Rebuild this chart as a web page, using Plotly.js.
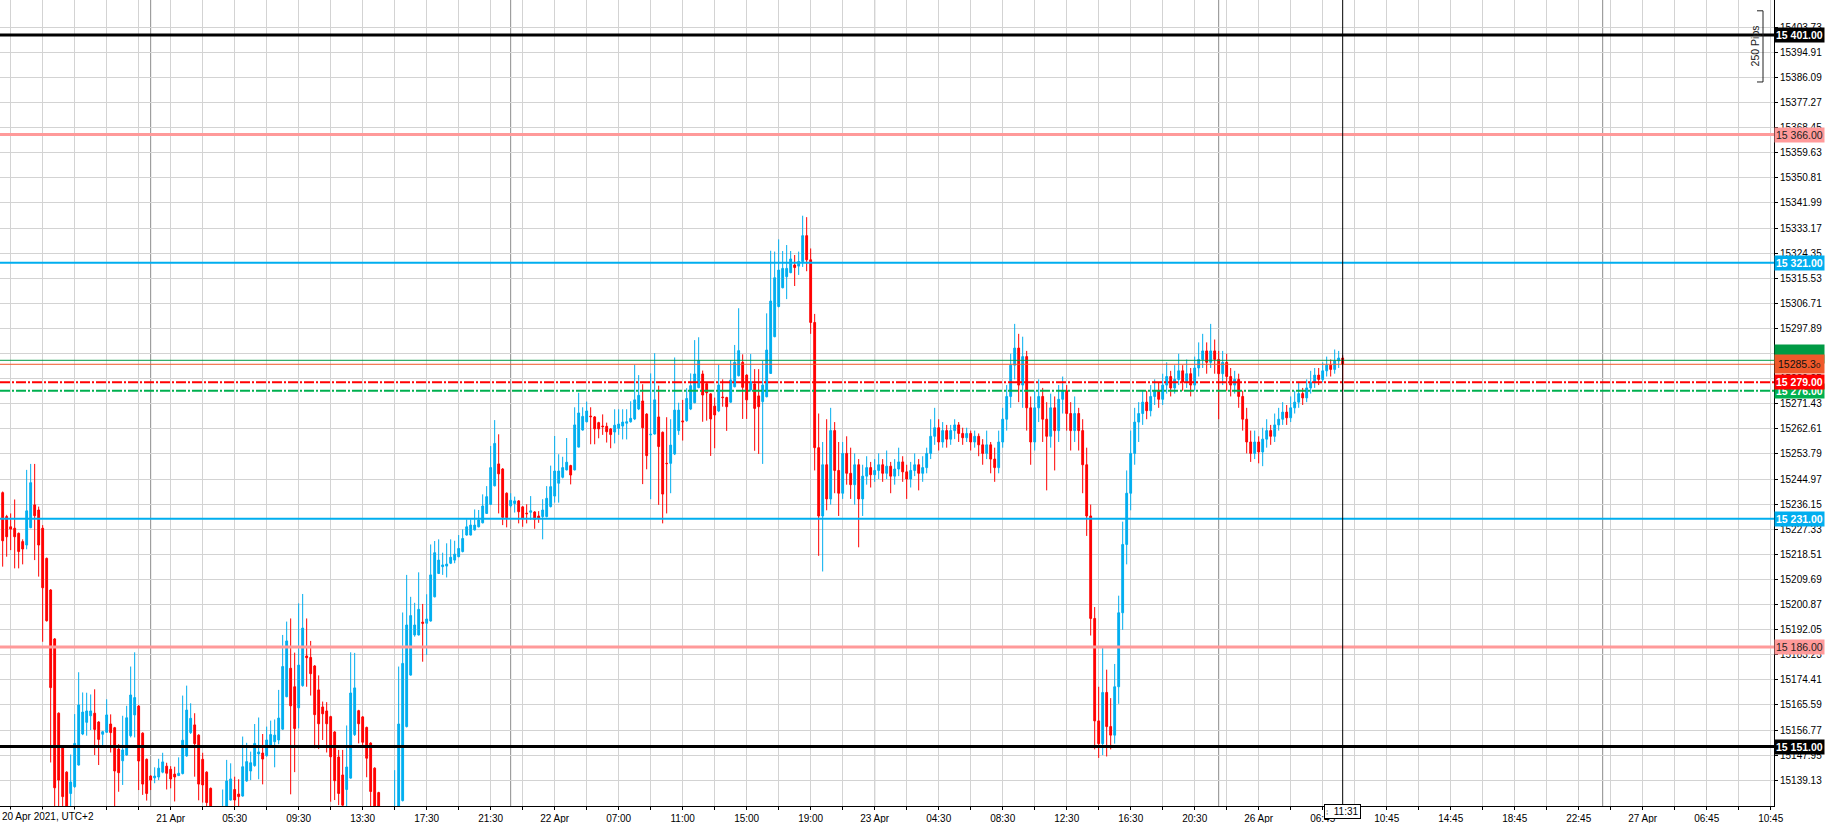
<!DOCTYPE html>
<html><head><meta charset="utf-8">
<script src="https://cdn.plot.ly/plotly-3.0.1.min.js"></script>
<style>html,body{margin:0;padding:0;background:#fff;overflow:hidden}#chart{width:1826px;height:823px}</style>
</head><body><div id="chart"></div>
<script>
// ---- DATA (15-minute candles, index 0 = first visible bar) ----
const openP = [
15240.2,15231.8,15228.2,15227.7,15225.9,15223.0,15221.8,15227.9,15235.9,15234.1,
15227.7,15217.1,15206.0,15188.8,15162.7,15150.6,15142.0,15134.5,15136.9,15144.5,
15155.4,15159.5,15161.8,15162.7,15159.6,15155.3,15156.0,15158.9,15157.6,15150.1,
15146.0,15148.0,15154.8,15162.1,15165.2,15155.7,15146.5,15140.6,15140.0,15140.3,
15142.0,15144.1,15143.0,15141.3,15140.8,15141.5,15147.7,15155.9,15158.6,15155.0,
15146.5,15142.0,15136.3,15128.0,15121.0,15125.0,15128.0,15132.2,15135.9,15134.3,
15133.6,15138.9,15142.4,15144.3,15148.4,15148.7,15147.8,15150.9,15152.7,15153.3,
15157.1,15168.5,15178.5,15172.0,15164.6,15172.4,15182.8,15182.3,15179.3,15170.9,
15164.9,15163.5,15161.5,15156.1,15147.3,15141.0,15135.9,15139.9,15155.2,15163.6,
15161.4,15157.7,15152.2,15143.4,15134.8,15128.0,15122.0,15124.0,15126.0,15127.0,
15132.0,15158.0,15176.1,15190.2,15190.2,15194.7,15194.3,15195.1,15203.6,15211.8,
15214.2,15214.4,15215.4,15216.5,15217.7,15219.5,15225.3,15225.3,15227.1,15228.2,
15229.6,15232.9,15236.1,15242.6,15250.3,15248.5,15240.0,15235.6,15236.4,15237.3,
15235.2,15233.0,15233.3,15233.4,15232.0,15231.8,15231.8,15235.3,15239.0,15243.5,
15245.6,15248.2,15249.7,15248.2,15256.2,15262.2,15265.1,15267.1,15266.8,15264.8,
15263.6,15263.5,15262.6,15261.5,15262.8,15263.6,15264.6,15265.1,15266.1,15269.6,
15272.4,15267.8,15260.5,15260.8,15266.8,15261.4,15250.5,15250.5,15253.8,15262.0,
15265.4,15265.5,15269.6,15271.8,15277.1,15281.9,15278.5,15274.9,15270.6,15268.9,
15273.8,15273.6,15272.0,15277.4,15281.3,15286.0,15281.5,15276.3,15278.4,15274.2,
15272.2,15273.9,15282.1,15295.0,15305.6,15312.2,15316.1,15317.5,15320.2,15319.8,
15321.4,15330.5,15322.0,15300.0,15256.0,15232.0,15250.0,15238.0,15262.0,15248.0,
15240.0,15254.0,15247.0,15243.0,15250.0,15238.0,15246.0,15249.0,15246.5,15248.0,
15250.0,15247.0,15249.5,15246.0,15248.5,15251.0,15247.5,15245.0,15248.0,15250.0,
15247.0,15249.0,15254.0,15260.0,15263.0,15258.0,15262.0,15259.0,15262.0,15264.0,
15261.0,15259.5,15261.0,15258.0,15260.0,15257.0,15254.0,15257.0,15252.0,15249.0,
15258.0,15266.0,15274.0,15285.0,15291.0,15278.0,15288.0,15270.0,15258.0,15270.0,
15274.0,15266.0,15260.0,15270.0,15262.0,15273.0,15276.0,15268.0,15262.0,15268.0,
15262.0,15250.0,15232.0,15196.0,15160.0,15152.0,15170.0,15158.0,15155.0,15172.0,
15198.0,15222.0,15240.0,15254.0,15265.0,15268.0,15272.0,15269.0,15274.0,15276.0,
15273.0,15278.0,15281.0,15277.0,15280.0,15283.0,15279.0,15282.0,15278.0,15284.0,
15287.0,15290.0,15286.0,15290.0,15287.0,15282.0,15286.0,15281.0,15278.0,15280.0,
15274.0,15266.0,15258.0,15254.0,15258.0,15254.5,15259.0,15262.0,15260.0,15264.0,
15266.0,15268.5,15266.5,15270.0,15272.0,15275.0,15273.5,15277.0,15279.0,15281.5,
15280.0,15283.0,15285.0,15283.5,15286.5,15287.5];
const highP = [
15240.6,15232.4,15232.9,15237.8,15226.2,15223.8,15248.2,15250.3,15250.3,15235.3,
15228.8,15217.4,15206.3,15189.1,15163.0,15151.0,15142.3,15148.2,15162.4,15177.1,
15170.0,15169.9,15169.3,15171.1,15159.9,15156.5,15167.6,15162.3,15157.9,15151.8,
15161.8,15165.3,15179.1,15184.1,15165.6,15156.0,15146.8,15140.9,15143.7,15146.7,
15148.8,15145.3,15144.1,15143.9,15147.2,15168.9,15172.4,15166.2,15162.7,15155.3,
15148.8,15142.3,15136.6,15129.5,15129.0,15135.9,15146.3,15145.1,15140.4,15139.5,
15154.5,15152.3,15149.2,15158.9,15161.2,15155.4,15158.0,15160.1,15160.5,15170.9,
15190.2,15194.9,15196.0,15184.0,15201.3,15204.6,15196.0,15188.1,15179.6,15176.0,
15166.8,15166.6,15161.8,15156.4,15149.8,15149.8,15158.4,15184.1,15183.9,15163.9,
15161.7,15158.0,15152.5,15143.7,15135.1,15129.0,15128.0,15129.0,15142.7,15179.1,
15198.1,15211.3,15203.6,15201.5,15212.2,15201.1,15204.5,15222.0,15223.2,15223.8,
15219.1,15222.4,15223.8,15223.3,15225.3,15227.3,15230.8,15230.8,15234.3,15234.1,
15239.6,15242.5,15256.6,15265.7,15260.7,15248.8,15240.3,15240.0,15238.8,15237.6,
15235.5,15236.1,15239.0,15233.7,15233.7,15237.9,15242.5,15249.7,15260.1,15253.7,
15252.8,15259.4,15250.0,15270.2,15275.3,15270.2,15272.2,15270.2,15267.1,15265.1,
15267.7,15264.8,15262.9,15269.5,15269.5,15269.5,15269.5,15272.3,15285.1,15281.5,
15278.3,15268.1,15282.1,15289.2,15277.8,15261.7,15266.7,15266.0,15287.7,15271.8,
15272.8,15276.9,15282.1,15293.8,15294.8,15283.1,15278.8,15275.2,15273.6,15285.1,
15280.0,15273.9,15286.8,15292.1,15305.0,15288.8,15281.8,15288.9,15283.6,15283.6,
15286.5,15303.2,15325.2,15324.9,15329.2,15325.1,15327.2,15325.1,15323.7,15324.9,
15337.5,15337.0,15326.0,15303.0,15268.0,15258.0,15266.0,15270.0,15265.0,15258.0,
15258.0,15260.0,15256.0,15254.0,15252.0,15250.0,15253.0,15251.0,15252.0,15254.0,
15252.0,15255.0,15251.0,15252.0,15256.0,15253.0,15250.0,15251.0,15254.0,15252.0,
15253.0,15256.0,15266.0,15270.0,15266.0,15265.0,15264.0,15264.0,15266.0,15265.0,
15263.0,15263.0,15262.0,15262.0,15261.0,15259.0,15262.0,15258.0,15256.0,15262.0,
15270.0,15278.0,15289.0,15299.5,15296.0,15295.0,15290.0,15274.0,15276.0,15280.0,
15277.0,15272.0,15275.0,15274.0,15278.0,15281.0,15278.0,15272.0,15274.0,15270.0,
15266.0,15256.0,15236.0,15200.0,15172.0,15186.0,15178.0,15168.0,15180.0,15204.0,
15230.0,15248.0,15262.0,15270.0,15272.0,15276.0,15276.0,15278.0,15280.0,15279.0,
15282.0,15286.0,15283.0,15285.0,15289.0,15285.0,15287.0,15284.0,15288.0,15293.0,
15296.0,15293.0,15299.5,15294.0,15290.0,15290.0,15289.0,15284.0,15283.0,15282.0,
15276.0,15270.0,15262.0,15262.0,15260.0,15263.0,15266.0,15264.0,15268.0,15270.0,
15272.0,15271.0,15274.0,15276.0,15279.0,15277.0,15280.0,15283.0,15284.0,15284.0,
15286.0,15288.0,15287.0,15290.5,15290.0,15288.5];
const lowP = [
15214.2,15217.7,15220.0,15213.6,15213.6,15215.0,15220.3,15227.7,15216.5,15210.7,
15187.8,15194.9,15145.4,15128.0,15128.0,15127.0,15120.0,15128.0,15136.5,15144.3,
15155.0,15154.8,15156.8,15148.0,15144.5,15151.5,15155.9,15148.9,15129.0,15135.1,
15137.5,15147.8,15154.2,15154.2,15135.7,15134.0,15132.0,15135.7,15138.1,15139.2,
15141.6,15135.9,15136.3,15131.7,15140.6,15141.2,15147.4,15155.4,15140.4,15132.1,
15131.3,15129.0,15124.0,15120.0,15118.0,15122.0,15125.0,15132.0,15129.0,15129.0,
15133.4,15138.6,15139.2,15143.9,15139.5,15137.7,15147.4,15150.7,15143.7,15151.8,
15156.9,15168.3,15134.2,15142.0,15157.4,15172.0,15172.0,15168.9,15150.4,15150.1,
15153.3,15148.9,15131.6,15132.2,15130.4,15128.0,15129.0,15139.7,15154.7,15152.1,
15151.5,15140.2,15129.0,15125.0,15124.0,15121.0,15119.0,15121.0,15123.0,15125.0,
15131.7,15157.7,15175.9,15189.6,15190.0,15180.8,15183.2,15194.9,15203.4,15211.6,
15211.3,15210.4,15215.1,15215.4,15217.5,15219.2,15225.1,15225.2,15226.9,15228.0,
15229.4,15232.7,15235.9,15242.4,15232.9,15228.8,15228.0,15235.0,15233.2,15229.4,
15228.2,15229.4,15230.6,15227.5,15229.6,15223.8,15231.5,15235.0,15236.7,15236.7,
15245.2,15248.0,15243.1,15248.0,15256.1,15262.0,15264.9,15257.2,15257.2,15259.3,
15260.5,15257.8,15255.8,15257.5,15260.5,15258.9,15258.9,15264.8,15265.7,15269.2,
15243.2,15248.4,15237.9,15260.6,15235.9,15229.4,15232.9,15240.0,15253.4,15260.5,
15258.5,15265.1,15269.2,15271.6,15276.9,15265.1,15265.5,15253.1,15255.8,15268.5,
15270.4,15261.9,15271.8,15277.2,15281.0,15266.1,15266.1,15275.7,15254.9,15253.8,
15250.3,15273.7,15281.9,15294.8,15305.3,15312.0,15308.2,15317.3,15312.8,15316.7,
15319.5,15318.0,15296.0,15248.0,15218.0,15212.5,15234.0,15236.0,15240.0,15232.0,
15238.0,15243.0,15238.0,15236.0,15221.0,15232.0,15243.0,15242.0,15244.0,15245.0,
15244.0,15245.0,15240.0,15243.0,15246.0,15244.0,15238.0,15242.0,15246.0,15241.0,
15244.0,15247.0,15252.0,15257.0,15255.0,15256.0,15256.0,15257.0,15259.0,15258.0,
15257.0,15258.0,15255.0,15256.0,15253.0,15250.0,15252.0,15247.0,15244.0,15247.0,
15256.0,15262.0,15270.0,15280.0,15272.0,15270.0,15262.0,15250.0,15255.0,15265.0,
15258.0,15241.0,15256.0,15248.0,15258.0,15268.0,15262.0,15255.0,15258.0,15255.0,
15240.0,15225.0,15190.0,15150.0,15147.0,15148.0,15147.5,15150.0,15152.0,15166.0,
15192.0,15215.0,15234.0,15250.0,15258.0,15264.0,15266.0,15267.0,15271.0,15270.0,
15271.0,15275.0,15274.0,15275.0,15278.0,15276.0,15277.0,15274.0,15276.0,15281.0,
15284.0,15282.0,15284.0,15282.0,15266.0,15278.0,15276.0,15274.0,15275.0,15270.0,
15262.0,15254.0,15251.0,15252.0,15250.5,15249.5,15256.0,15257.0,15258.0,15262.0,
15264.0,15264.0,15265.0,15268.0,15270.0,15271.0,15272.0,15275.0,15277.0,15278.0,
15279.0,15281.0,15281.0,15282.0,15284.0,15276.0];
const closeP = [
15223.3,15224.7,15227.4,15224.7,15219.5,15220.4,15233.8,15243.7,15232.1,15221.8,
15206.8,15195.2,15171.7,15136.5,15139.2,15133.4,15125.0,15138.5,15152.1,15165.6,
15163.1,15163.5,15163.5,15157.0,15153.5,15156.2,15162.1,15155.9,15142.4,15141.8,
15149.8,15161.1,15169.1,15168.2,15145.9,15137.8,15134.5,15139.2,15140.6,15143.4,
15145.6,15141.6,15139.6,15140.3,15141.6,15153.2,15163.8,15160.9,15152.0,15137.8,
15137.5,15131.3,15128.0,15124.0,15127.0,15129.0,15138.9,15139.6,15132.2,15133.4,
15143.9,15145.7,15145.3,15152.1,15149.1,15146.6,15153.3,15155.2,15155.0,15161.0,
15179.1,15188.1,15165.3,15157.3,15179.6,15192.6,15182.2,15176.6,15162.2,15159.0,
15162.5,15159.0,15147.4,15139.0,15134.5,15130.4,15143.8,15169.8,15171.6,15159.0,
15152.5,15146.9,15135.2,15129.0,15128.0,15124.0,15126.0,15127.0,15129.0,15158.9,
15180.2,15193.7,15197.0,15193.7,15199.2,15194.3,15195.8,15211.3,15219.1,15216.5,
15214.8,15215.1,15217.5,15218.6,15220.6,15224.1,15228.2,15228.8,15228.8,15230.6,
15235.5,15238.8,15249.0,15257.5,15246.8,15231.5,15231.4,15237.5,15237.3,15233.5,
15231.2,15232.8,15233.8,15230.8,15231.2,15234.1,15238.2,15242.3,15247.8,15247.8,
15249.0,15250.9,15246.4,15264.0,15268.2,15267.0,15268.9,15266.9,15262.6,15262.6,
15263.4,15261.6,15260.6,15263.9,15264.3,15265.0,15265.1,15266.3,15272.8,15274.4,
15263.0,15253.2,15260.7,15272.8,15256.4,15239.7,15250.4,15256.9,15269.2,15269.2,
15265.1,15273.3,15277.8,15281.9,15286.6,15274.5,15275.3,15266.1,15267.5,15278.0,
15273.6,15270.4,15279.8,15286.0,15290.1,15277.2,15272.8,15279.2,15269.8,15270.4,
15278.0,15290.3,15307.5,15315.7,15318.4,15319.0,15319.0,15322.3,15319.3,15321.4,
15330.5,15322.0,15300.0,15256.0,15232.0,15250.0,15238.0,15262.0,15248.0,15240.0,
15254.0,15247.0,15243.0,15250.0,15238.0,15246.0,15249.0,15246.5,15248.0,15250.0,
15247.0,15249.5,15246.0,15248.5,15251.0,15247.5,15245.0,15248.0,15250.0,15247.0,
15249.0,15254.0,15260.0,15263.0,15258.0,15262.0,15259.0,15262.0,15264.0,15261.0,
15259.5,15261.0,15258.0,15260.0,15257.0,15254.0,15257.0,15252.0,15249.0,15258.0,
15266.0,15274.0,15285.0,15291.0,15278.0,15288.0,15270.0,15258.0,15270.0,15274.0,
15266.0,15260.0,15270.0,15262.0,15273.0,15276.0,15268.0,15262.0,15268.0,15262.0,
15250.0,15232.0,15196.0,15160.0,15152.0,15170.0,15158.0,15155.0,15172.0,15198.0,
15222.0,15240.0,15254.0,15265.0,15268.0,15272.0,15269.0,15274.0,15276.0,15273.0,
15278.0,15281.0,15277.0,15280.0,15283.0,15279.0,15282.0,15278.0,15284.0,15287.0,
15290.0,15286.0,15290.0,15287.0,15282.0,15286.0,15281.0,15278.0,15280.0,15274.0,
15266.0,15258.0,15254.0,15258.0,15254.5,15259.0,15262.0,15260.0,15264.0,15266.0,
15268.5,15266.5,15270.0,15272.0,15275.0,15273.5,15277.0,15279.0,15281.5,15280.0,
15283.0,15285.0,15283.5,15286.5,15287.5,15285.3];

const yTickVals = [15403.73,15394.91,15386.09,15377.27,15368.45,15359.63,15350.81,15341.99,
15333.17,15324.35,15315.53,15306.71,15297.89,15289.07,15280.25,15271.43,15262.61,15253.79,
15244.97,15236.15,15227.33,15218.51,15209.69,15200.87,15192.05,15183.23,15174.41,15165.59,
15156.77,15147.95,15139.13];

const xLabelPos  = [42,58,74,90,106,122,138,154,170,186,202,218,234,250,266,282,298,314,330,346,362,378,394,410,426,442];
const xLabelText = ["21 Apr","05:30","09:30","13:30","17:30","21:30","22 Apr","07:00","11:00","15:00","19:00",
  "23 Apr","04:30","08:30","12:30","16:30","20:30","26 Apr","06:45","10:45","14:45","18:45","22:45","27 Apr","06:45","10:45"];
const firstLabel = "20 Apr 2021, UTC+2";
const daySeparators = [37,127,218,304,400];
const nowIndex = 335;
const nowLabel = "11:31";

const supportResist = [15401, 15366, 15321, 15231, 15186, 15151];
const orderLevels = [15279, 15276];
const bidPrice = 15285.3;
const askPrice = 15286.7;
const pipsBracket = {top: 15409.5, bottom: 15384.5, label: "250 Pips"};

// ---- STYLES ----
const BLUE = '#00aeef', RED = '#ff0000', PINK = '#ff9a9a', BLACK = '#000000';
const GREEN = '#00b050', ASKGREEN = '#009a44', ORANGE = '#f0592a';
const FONT = 'Liberation Sans, Arial, sans-serif';
const levelStyle = {
  15401: {color: BLACK, width: 3, txt: '#fff'},
  15366: {color: PINK, width: 3, txt: '#222'},
  15321: {color: BLUE, width: 2, txt: '#fff'},
  15231: {color: BLUE, width: 2, txt: '#fff'},
  15186: {color: PINK, width: 3, txt: '#222'},
  15151: {color: BLACK, width: 3, txt: '#fff'}
};
const orderStyle = {15279: {color: RED}, 15276: {color: GREEN}};

function fmtSpace(p) {
  const s = p.toFixed(2);
  return s.slice(0, 2) + ' ' + s.slice(2);
}
function fmtPip(p) {
  const s = p.toFixed(2);
  return s.slice(0, -1) + '<span style="font-size:8px">' + s.slice(-1) + '</span>';
}

const idx = openP.map((_, i) => i);

const trace = {
  type: 'candlestick', x: idx, open: openP, high: highP, low: lowP, close: closeP,
  increasing: {line: {color: BLUE, width: 1}, fillcolor: BLUE},
  decreasing: {line: {color: RED, width: 1}, fillcolor: RED},
  whiskerwidth: 0, hoverinfo: 'skip', showlegend: false
};

const gridVals = [], gridText = [];
for (let v = 2; v <= 442; v += 8) {
  gridVals.push(v);
  const k = xLabelPos.indexOf(v);
  gridText.push(k >= 0 ? xLabelText[k] : '');
}

const shapes = [];
daySeparators.forEach(d => shapes.push({type: 'line', xref: 'x', yref: 'paper', x0: d, x1: d, y0: 0, y1: 1,
  line: {color: '#8c8c8c', width: 1}, layer: 'below'}));
supportResist.forEach(p => shapes.push({type: 'line', xref: 'paper', yref: 'y', x0: 0, x1: 1, y0: p, y1: p,
  line: {color: levelStyle[p].color, width: levelStyle[p].width}, layer: 'above'}));
shapes.push({type: 'line', xref: 'paper', yref: 'y', x0: 0, x1: 1, y0: askPrice, y1: askPrice,
  line: {color: ASKGREEN, width: 1}, layer: 'above'});
shapes.push({type: 'line', xref: 'paper', yref: 'y', x0: 0, x1: 1, y0: bidPrice, y1: bidPrice,
  line: {color: ORANGE, width: 1}, layer: 'above'});
orderLevels.forEach(p => shapes.push({type: 'line', xref: 'paper', yref: 'y', x0: 0, x1: 1, y0: p, y1: p,
  line: {color: orderStyle[p].color, width: 2, dash: '10px,2px,2px,2px'}, layer: 'above'}));
shapes.push({type: 'line', xref: 'x', yref: 'paper', x0: nowIndex, x1: nowIndex, y0: 0, y1: 1,
  line: {color: '#000', width: 1}, layer: 'above'});
// 250 pips bracket
const bx = 1763 / 1774, bx0 = 1757 / 1774;
shapes.push({type: 'line', xref: 'paper', yref: 'y', x0: bx, x1: bx, y0: pipsBracket.bottom, y1: pipsBracket.top, line: {color: '#222', width: 1}});
shapes.push({type: 'line', xref: 'paper', yref: 'y', x0: bx0, x1: bx, y0: pipsBracket.top, y1: pipsBracket.top, line: {color: '#222', width: 1}});
shapes.push({type: 'line', xref: 'paper', yref: 'y', x0: bx0, x1: bx, y0: pipsBracket.bottom, y1: pipsBracket.bottom, line: {color: '#222', width: 1}});

const annotations = [];
function priceBox(p, text, bg, fc, bold, extra) {
  annotations.push(Object.assign({
    xref: 'paper', yref: 'y', x: 1, y: p, xanchor: 'left', yanchor: 'middle', showarrow: false,
    text: bold ? '<b>' + text + '</b>' : text, bgcolor: bg, borderpad: 1, align: 'left',
    font: {family: FONT, size: 10.5, color: fc}
  }, extra || {}));
}
supportResist.forEach(p => priceBox(p, fmtSpace(p), levelStyle[p].color, levelStyle[p].txt, levelStyle[p].txt === '#fff'));
// ask box sits behind the bid box, only its top edge shows
priceBox(askPrice, fmtPip(askPrice), ASKGREEN, ASKGREEN, false, {borderpad: 3, yshift: 6});
priceBox(bidPrice, fmtPip(bidPrice), ORANGE, '#111', false, {borderpad: 3});
priceBox(15276, fmtSpace(15276), GREEN, '#fff', true);
priceBox(15279, fmtSpace(15279), RED, '#fff', true);

annotations.push({xref: 'paper', yref: 'paper', x: 0, y: 0, xanchor: 'left', yanchor: 'top', yshift: -3,
  showarrow: false, text: firstLabel, bgcolor: '#fff', font: {family: FONT, size: 10, color: '#000'}});
annotations.push({xref: 'x', yref: 'paper', x: nowIndex, y: 0, xanchor: 'center', yanchor: 'top', yshift: 2,
  showarrow: false, text: '<span style="font-size:8px;color:#666">⁞</span>  ' + nowLabel, bgcolor: '#fff',
  bordercolor: '#000', borderwidth: 1, borderpad: 1, font: {family: FONT, size: 10, color: '#000'}});
annotations.push({xref: 'paper', yref: 'y', x: 1755 / 1774, y: (pipsBracket.top + pipsBracket.bottom) / 2,
  xanchor: 'center', yanchor: 'middle', showarrow: false, textangle: -90, text: pipsBracket.label,
  font: {family: FONT, size: 10.5, color: '#222'}});

const layout = {
  width: 1826, height: 823, margin: {l: 0, r: 52, t: 0, b: 17, pad: 0},
  paper_bgcolor: '#fff', plot_bgcolor: '#fff', showlegend: false, boxgap: 0.35,
  xaxis: {
    range: [-0.6675, 442.83], tickmode: 'array', tickvals: gridVals, ticktext: gridText,
    showgrid: true, gridcolor: '#d3d3d3', gridwidth: 1, zeroline: false,
    showline: true, linecolor: '#000', linewidth: 1, ticks: 'outside', ticklen: 3, tickcolor: '#000',
    tickfont: {family: FONT, size: 10, color: '#000'}, rangeslider: {visible: false}, fixedrange: true
  },
  yaxis: {
    side: 'right', range: [15130.1, 15413.3], tickmode: 'array', tickvals: yTickVals,
    ticktext: yTickVals.map(v => v.toFixed(2)), showgrid: true, gridcolor: '#d3d3d3', gridwidth: 1,
    zeroline: false, showline: true, linecolor: '#000', linewidth: 1, ticks: 'outside', ticklen: 3,
    tickcolor: '#000', tickfont: {family: FONT, size: 10, color: '#000'}, fixedrange: true
  },
  shapes: shapes, annotations: annotations
};

Plotly.newPlot('chart', [trace], layout, {staticPlot: true, displayModeBar: false});
</script>
</body></html>
